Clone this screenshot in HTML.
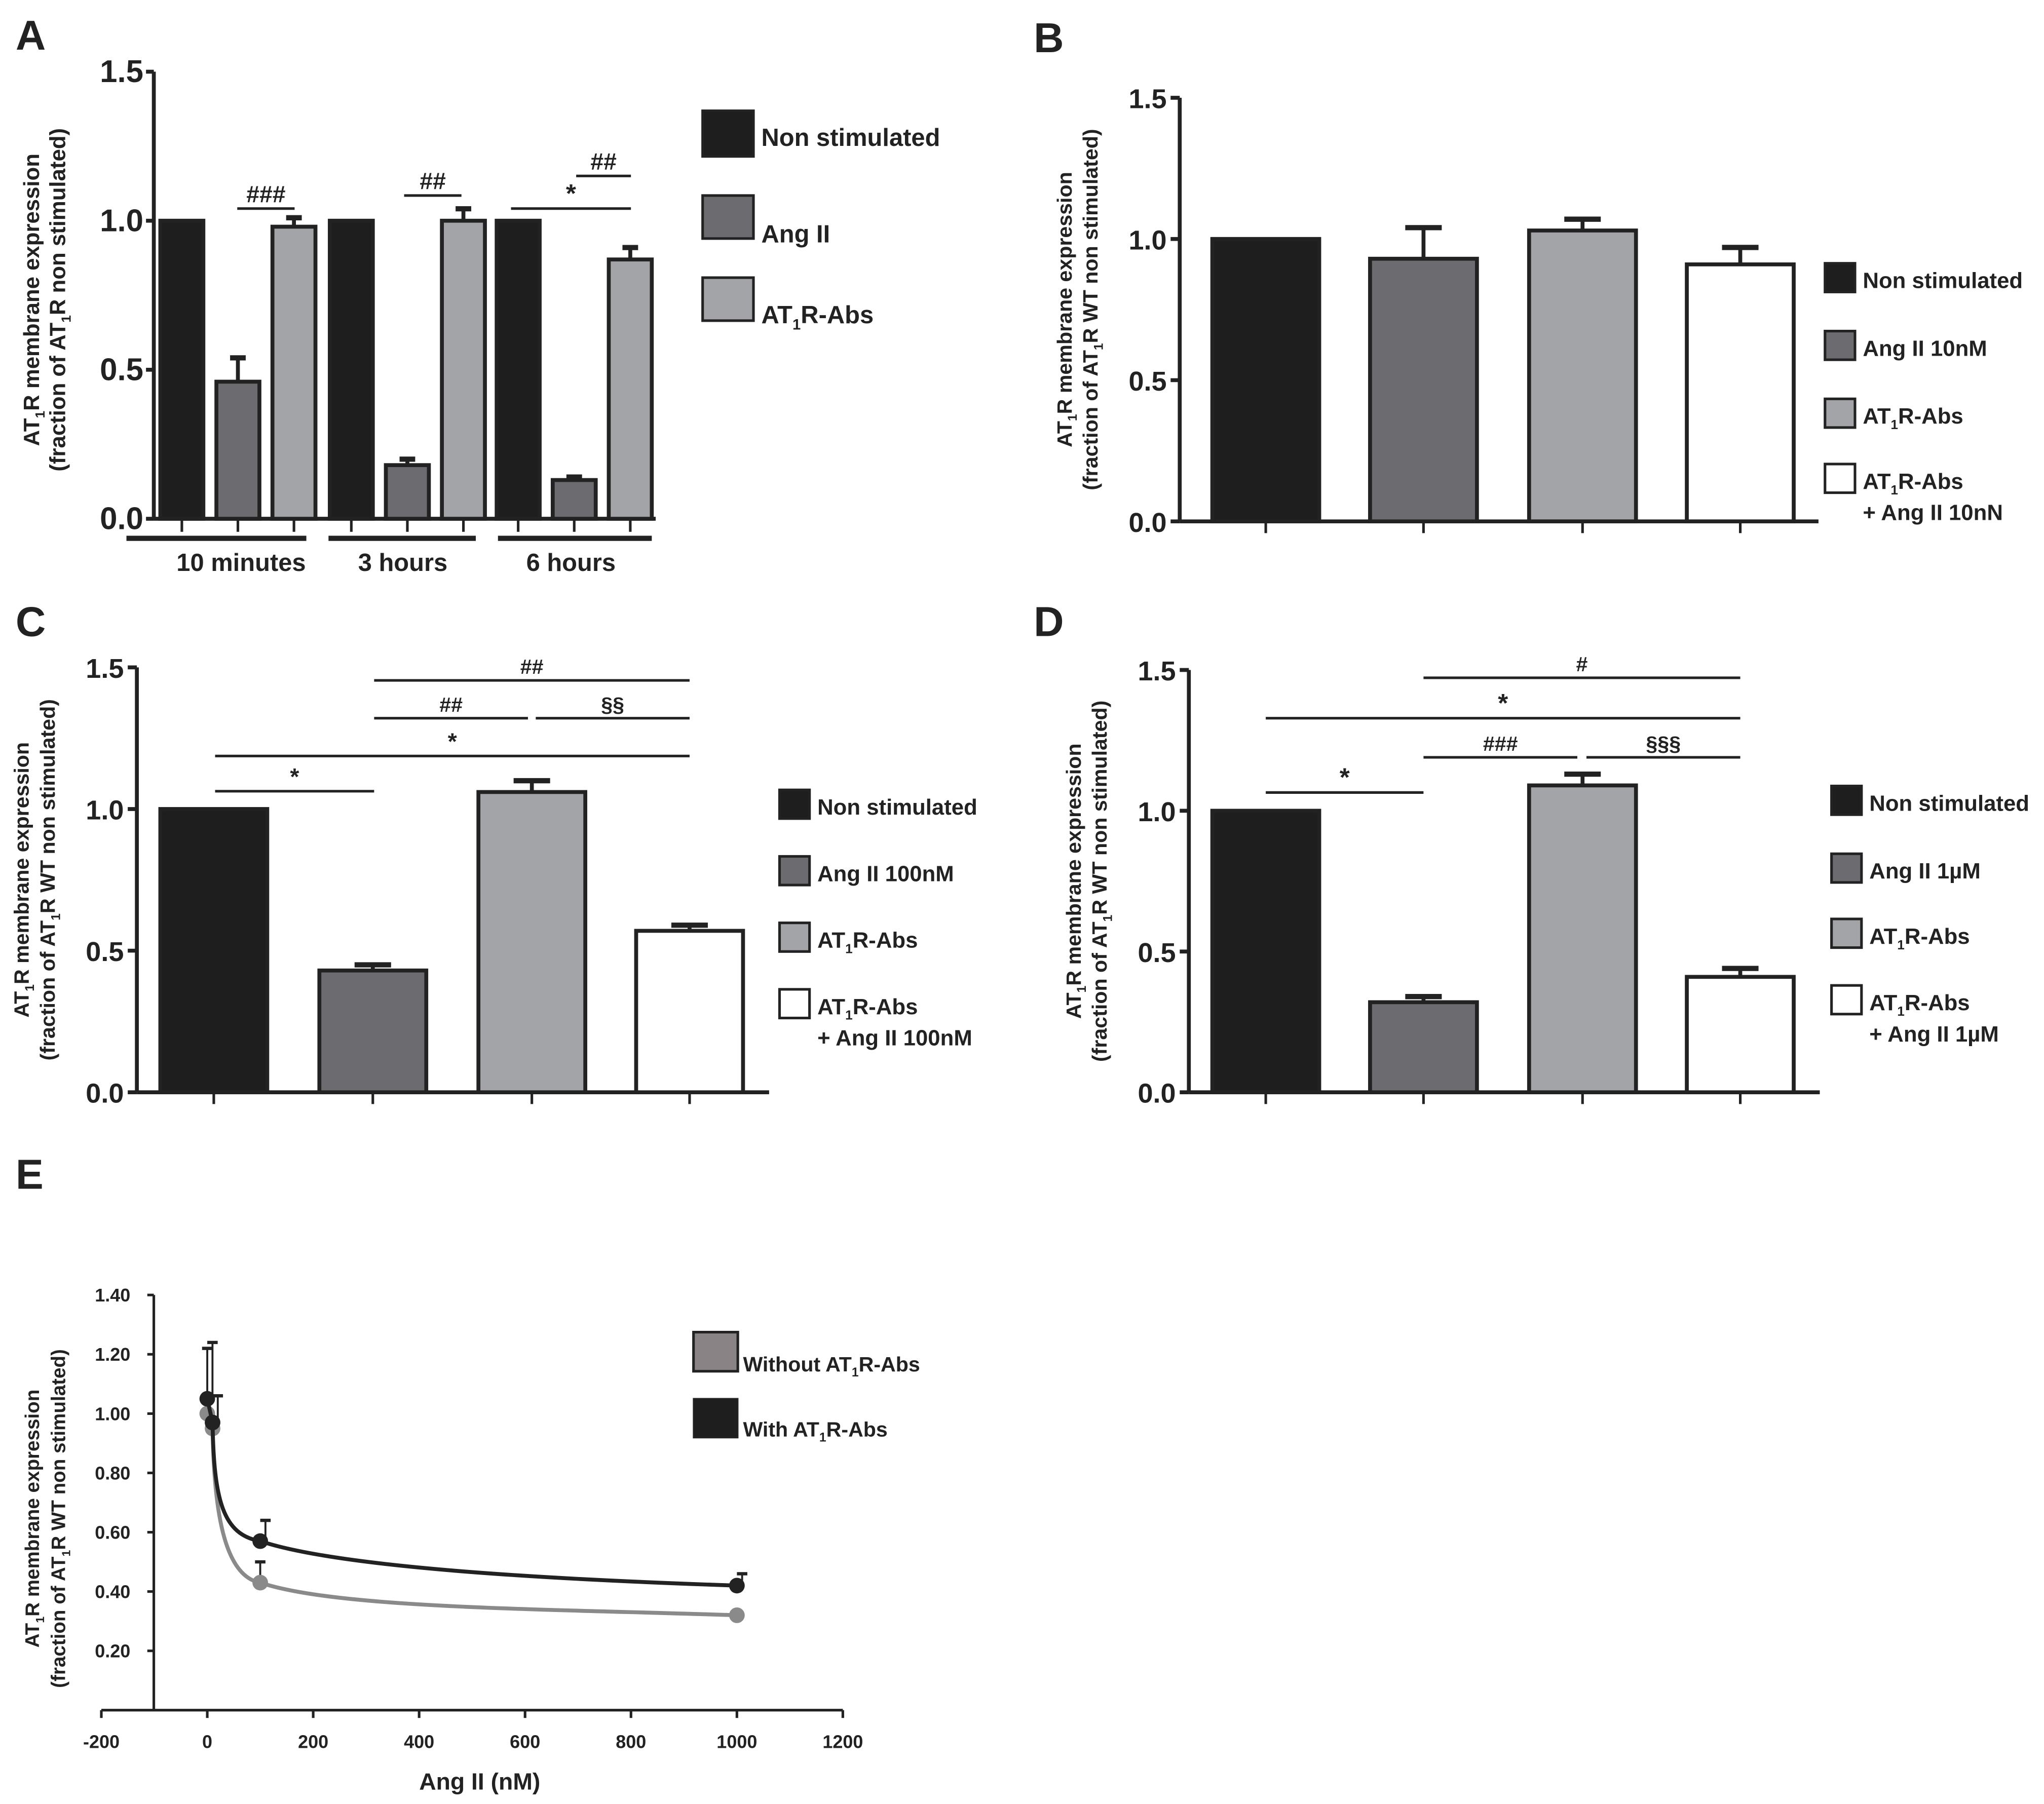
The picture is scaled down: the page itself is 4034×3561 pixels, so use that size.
<!DOCTYPE html>
<html><head><meta charset="utf-8"><style>
html,body{margin:0;padding:0;background:#fff;}
svg{display:block;}
text{font-family:"Liberation Sans",sans-serif;font-weight:bold;fill:#222;}
.n{font-family:"Liberation Sans Narrow","Liberation Sans",sans-serif;}
</style></head><body>
<svg id="fig" width="4034" height="3561" viewBox="0 0 1568 1384" preserveAspectRatio="none" xmlns="http://www.w3.org/2000/svg"></svg>
<script>
// Panel A data
const aGroups = ["10 minutes","3 hours","6 hours"];
const aSeries = ["Non stimulated","Ang II","AT1R-Abs"];
const aNon = [1.0,1.0,1.0];
const aAng = [0.46,0.18,0.13];
const aAbs = [0.98,1.0,0.87];
const aAngErr = [0.08,0.02,0.01];
const aAbsErr = [0.03,0.04,0.04];
const aTicks = [0,0.5,1.0,1.5];
// Panel B
const bValues = [1.0,0.93,1.03,0.91];
const bErr = [0,0.11,0.04,0.06];
// Panel C
const cValues = [1.0,0.43,1.06,0.57];
const cErr = [0,0.02,0.04,0.02];
// Panel D
const dValues = [1.0,0.32,1.09,0.41];
const dErr = [0,0.02,0.04,0.03];
// Panel E
const eX = [0,10,100,1000];
const eWithout = [1.0,0.95,0.43,0.32];
const eWithoutErr = [0.22,0,0.07,0.01];
const eWith = [1.05,0.97,0.57,0.42];
const eWithErr = [0.19,0.09,0.07,0.04];
const eXTicks = [-200,0,200,400,600,800,1000,1200];
const eYTicks = [0.2,0.4,0.6,0.8,1.0,1.2,1.4];

const NS="http://www.w3.org/2000/svg";
const svg=document.getElementById('fig');
function el(tag,attrs,parent,txt){const e=document.createElementNS(NS,tag);for(const k in attrs)e.setAttribute(k,attrs[k]);if(txt!==undefined)e.textContent=txt;(parent||svg).appendChild(e);return e;}
function g(name){const e=el('g',{});


return e;}
function txt(p,x,y,s,size,anchor,extra){const t=el('text',Object.assign({x:x,y:y,'font-size':size,'text-anchor':anchor||'start'},extra||{}),p,s);return t;}
function sub(p,x,y,size,anchor,parts,cls){
 const t=el('text',{x:x,y:y,'font-size':size,'text-anchor':anchor||'start'},p);
 if(cls)t.setAttribute('class',cls);
 parts.forEach(pt=>{const ts=el('tspan',{},t,pt[0]);if(pt[1]){ts.setAttribute('font-size',size*0.6);ts.setAttribute('dy',size*0.25);}else if(pt[2]){ts.setAttribute('dy',-size*0.25);}});
 return t;}
function ylabel(p,cx,cy,size,line2){
 const t1=el('text',{x:0,y:0,'font-size':size,'text-anchor':'middle',transform:`translate(${cx},${cy}) rotate(-90)`},p);
 [["AT"],["1",1],["R membrane expression",0,1]].forEach(pt=>{const ts=el('tspan',{},t1,pt[0]);if(pt[1]){ts.setAttribute('font-size',size*0.6);ts.setAttribute('dy',size*0.25);}if(pt[2])ts.setAttribute('dy',-size*0.25);});
 const t2=el('text',{x:0,y:0,'font-size':size,'text-anchor':'middle',transform:`translate(${cx+20},${cy}) rotate(-90)`},p);
 line2.forEach(pt=>{const ts=el('tspan',{},t2,pt[0]);if(pt[1]){ts.setAttribute('font-size',size*0.6);ts.setAttribute('dy',size*0.25);}if(pt[2])ts.setAttribute('dy',-size*0.25);});
}
const fills=["#1e1e1e","#6b6b70","#a3a4a8","#ffffff"];
function errBar(p,x,ytop,yerr,w,sw){el('line',{x1:x,x2:x,y1:ytop,y2:yerr,stroke:'#222','stroke-width':sw},p);el('line',{x1:x-w/2,x2:x+w/2,y1:yerr,y2:yerr,stroke:'#222','stroke-width':sw+1},p);}
function sig(p,x1,x2,y,label,size){el('line',{x1:x1,x2:x2,y1:y,y2:y,stroke:'#222','stroke-width':2},p);const t=txt(p,(x1+x2)/2,y-5,label,size||16,'middle');t.setAttribute('font-weight','normal');}

// ---------- Panel A ----------
(function(){
 const p=g('panel-a');
 txt(p,12,38,'A',32,'start');
 const ax=118,y0=398,y15=55; const ys=v=>y0-(y0-y15)*v/1.5;
 ylabel(p,30,230,17,[["(fraction of AT"],["1",1],["R non stimulated)",0,1]]);
 el('line',{x1:ax,x2:ax,y1:y15,y2:y0,stroke:'#222','stroke-width':3},p);
 el('line',{x1:ax,x2:503,y1:y0,y2:y0,stroke:'#222','stroke-width':3},p);
 aTicks.forEach(t=>{el('line',{x1:ax-6,x2:ax,y1:ys(t),y2:ys(t),stroke:'#222','stroke-width':3},p);txt(p,ax-8,ys(t)+8,t.toFixed(1),24,'end',{class:'n'});});
 const gStart=[123,253,381], bw=33, step=43;
 const gLine=[[97,235],[252,365],[382,500]];
 const gLab=[185,309,438];
 aGroups.forEach((gn,i)=>{
  const vals=[aNon[i],aAng[i],aAbs[i]], errs=[0,aAngErr[i],aAbsErr[i]];
  vals.forEach((v,j)=>{const x=gStart[i]+j*step;
   const r=el('rect',{x:x,y:ys(v),width:bw,height:y0-ys(v),fill:fills[j],stroke:'#222','stroke-width':3},p);
   
   
   if(errs[j]>0)errBar(p,x+bw/2,ys(v),ys(v+errs[j]),12,3);
   el('line',{x1:x+bw/2,x2:x+bw/2,y1:y0,y2:y0+10,stroke:'#222','stroke-width':2},p);
  });
  el('line',{x1:gLine[i][0],x2:gLine[i][1],y1:413,y2:413,stroke:'#222','stroke-width':4},p);
  txt(p,gLab[i],438,gn,19,'middle',{class:'n'});
 });
 sig(p,182,226,160,'###',18);sig(p,310,354,150,'##',18);sig(p,392,484,160,'*',20);sig(p,442,484,135,'##',18);
 const leg=[[85,120,'Non stimulated',112],[150,183,'Ang II',186],[213,246,'AT1R-Abs',248]];
 leg.forEach((l,j)=>{el('rect',{x:539,y:l[0],width:39,height:l[1]-l[0],fill:fills[j],stroke:'#222','stroke-width':2},p);
  if(j==2)sub(p,584,l[3],19,'start',[["AT"],["1",1],["R-Abs",0,1]],'n');else txt(p,584,l[3],l[2],19,'start',{class:'n'});});
})();

function barPanel(name,letter,lx,ly,ax,y0,y15,xEnd,bars,vals,errs,legX,legY,legLabels,sigs){
 const p=g(name);
 txt(p,lx,ly,letter,32,'start');
 const ys=v=>y0-(y0-y15)*v/1.5;
 ylabel(p,ax-83,(y0+y15)/2,16,[["(fraction of AT"],["1",1],["R WT non stimulated)",0,1]]);
 el('line',{x1:ax,x2:ax,y1:y15,y2:y0,stroke:'#222','stroke-width':3},p);
 el('line',{x1:ax,x2:xEnd,y1:y0,y2:y0,stroke:'#222','stroke-width':3},p);
 [0,0.5,1.0,1.5].forEach(t=>{el('line',{x1:ax-7,x2:ax,y1:ys(t),y2:ys(t),stroke:'#222','stroke-width':3},p);txt(p,ax-10,ys(t)+8,t.toFixed(1),21,'end');});
 vals.forEach((v,j)=>{const x=bars[j],bw=82;
  const r=el('rect',{x:x,y:ys(v),width:bw,height:y0-ys(v),fill:fills[j],stroke:'#222','stroke-width':3},p);
  
  
  if(errs[j]>0)errBar(p,x+bw/2,ys(v),ys(v+errs[j]),28,3);
  el('line',{x1:x+bw/2,x2:x+bw/2,y1:y0,y2:y0+9,stroke:'#222','stroke-width':2},p);
 });
 const sz=17;
 legY.forEach((y,j)=>{el('rect',{x:legX,y:y,width:23,height:22,fill:fills[j],stroke:'#222','stroke-width':2},p);
  const lab=legLabels[j];
  if(lab.startsWith('AT1R')){sub(p,legX+29,y+19,sz,'start',[["AT"],["1",1],["R-Abs",0,1]]);}
  else txt(p,legX+29,y+19,lab,sz,'start');
  if(j==3)txt(p,legX+29,y+43,legLabels[4],sz,'start');
 });
 (sigs||[]).forEach(s=>sig(p,s[0],s[1],s[2],s[3],s[4]));
}
barPanel('panel-b','B',793,40,905,400,75,1395,[930,1051,1173,1294],bValues,bErr,1400,[202,254,306,356],['Non stimulated','Ang II 10nM','AT1R-Abs','AT1R-Abs','+ Ang II 10nN']);
barPanel('panel-c','C',12,488,105,838,512,590,[123,245,367,488],cValues,cErr,598,[606,657,708,759],['Non stimulated','Ang II 100nM','AT1R-Abs','AT1R-Abs','+ Ang II 100nM'],
 [[165,287,607,'*',18],[165,529,580,'*',18],[287,405,551,'##',16],[411,529,551,'§§',16],[287,529,522,'##',16]]);
barPanel('panel-d','D',793,488,912,838,514,1396,[930,1051,1173,1294],dValues,dErr,1405,[603,655,705,756],['Non stimulated','Ang II 1µM','AT1R-Abs','AT1R-Abs','+ Ang II 1µM'],
 [[971,1092,608,'*',20],[971,1335,551,'*',20],[1092,1335,520,'#',16],[1092,1210,581,'###',16],[1217,1335,581,'§§§',16]]);

// ---------- Panel E ----------
(function(){
 const p=g('panel-e');
 txt(p,12,912,'E',32,'start');
 const xs=v=>159+v*0.4063; const ys=v=>1312-v*227.5;
 ylabel(p,30,1165,15,[["(fraction of AT"],["1",1],["R WT non stimulated)",0,1]]);
 el('line',{x1:118,x2:118,y1:ys(1.4),y2:1312,stroke:'#222','stroke-width':2},p);
 el('line',{x1:xs(-200),x2:xs(1200),y1:1312,y2:1312,stroke:'#222','stroke-width':2},p);
 eYTicks.forEach(t=>{el('line',{x1:113,x2:118,y1:ys(t),y2:ys(t),stroke:'#222','stroke-width':2},p);const tt=txt(p,100,ys(t)+5,t.toFixed(2),14,'end',{class:'n'});tt.setAttribute('font-weight','normal');tt.setAttribute('fill','#666');});
 eXTicks.forEach(t=>{el('line',{x1:xs(t),x2:xs(t),y1:1312,y2:1318,stroke:'#222','stroke-width':2},p);const tt=txt(p,xs(t),1341,String(t),14,'middle',{class:'n'});tt.setAttribute('font-weight','normal');tt.setAttribute('fill','#666');});
 txt(p,368,1373,'Ang II (nM)',18,'middle',{class:'n'});
 function curve(vals,errs,color,w,name){
  errs.forEach((e,i)=>{if(e>0)errBar(p,xs(eX[i])+(color=='#222'?4:0),ys(vals[i]),ys(vals[i]+e),8,1.5);});
  let d='';
  for(let i=0;i<eX.length;i++){const x=xs(eX[i]),y=ys(vals[i]);
   if(i==0)d+=`M${x},${y}`;
   else if(i==2){const px=xs(eX[1]),py=ys(vals[1]);d+=` C${px+1},${py+60} ${px+8},${y-5} ${x},${y}`;}
   else if(i==3){const px=xs(eX[2]),py=ys(vals[2]);d+=` C${px+60},${py+20} ${x-150},${y-5} ${x},${y}`;}
   else d+=` L${x},${y}`;}
  const path=el('path',{d:d,fill:'none',stroke:color,'stroke-width':w},p);
  
  
  vals.forEach((v,i)=>{el('circle',{cx:xs(eX[i]),cy:ys(v),r:6,fill:color},p);});
 }
 curve(eWithout,eWithoutErr,'#8a8a8a',3,'line-without-abs');
 curve(eWith,eWithErr,'#222',3,'line-with-abs');
 el('rect',{x:532,y:1022,width:34,height:30,fill:'#8a8385',stroke:'#222','stroke-width':2},p);
 el('rect',{x:532,y:1073,width:34,height:30,fill:'#1e1e1e',stroke:'#222','stroke-width':1},p);
 sub(p,570,1052,16,'start',[["Without AT"],["1",1],["R-Abs",0,1]],'n');
 sub(p,570,1102,16,'start',[["With AT"],["1",1],["R-Abs",0,1]],'n');
})();
</script>
</body></html>
